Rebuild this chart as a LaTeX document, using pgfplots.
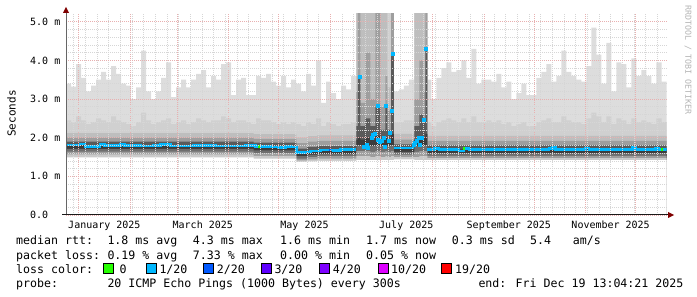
\documentclass[border=0pt]{standalone}
\usepackage{pgfplots}
\pgfplotsset{compat=1.18}
\usepackage{pgfplotstable}
\usepackage{fontspec}
\setmainfont{DejaVu Sans Mono}
\definecolor{ctop}{HTML}{DDDDDD}
\definecolor{cu1}{HTML}{D0D0D0}
\definecolor{cu2}{HTML}{BEBEBE}
\definecolor{cu3}{HTML}{9E9E9E}
\definecolor{cu4}{HTML}{5A5A5A}
\definecolor{cmed}{HTML}{3C3C3C}
\definecolor{cl1}{HTML}{6E6E6E}
\definecolor{cl2}{HTML}{9E9E9E}
\definecolor{cl3}{HTML}{CACACA}
\definecolor{mgrid}{HTML}{E8B0B0}
\definecolor{ngrid}{HTML}{D6D6D6}
\definecolor{lc0}{HTML}{26FF00}
\definecolor{lc1}{HTML}{00B8FF}
\definecolor{lc2}{HTML}{0059FF}
\definecolor{lc3}{HTML}{5E00FF}
\definecolor{lc4}{HTML}{7E00FF}
\definecolor{lc10}{HTML}{DD00FF}
\definecolor{lc19}{HTML}{FF0000}
\definecolor{arrowc}{HTML}{7F0000}
\definecolor{wm}{HTML}{B4B4B4}
\newcommand{\tf}{\fontsize{10bp}{12bp}\selectfont}
\newcommand{\lf}{\fontsize{11.6bp}{14bp}\selectfont}

% days since 1 Jan 2025; top = slowest ping, u1 = upper smoke boundary
\pgfplotstableread{
d top u1
-7.5 3.40 2.45
-4.5 3.32 2.40
-1.5 3.90 2.55
1.5 3.55 2.45
4.5 3.20 2.35
7.5 3.35 2.40
10.5 3.50 2.50
13.5 3.70 2.45
16.5 3.50 2.40
19.5 3.85 2.55
22.5 3.65 2.45
25.5 3.40 2.40
28.5 3.35 2.35
31.5 3.00 2.30
34.5 3.30 2.40
37.5 4.25 2.65
40.5 3.20 2.45
43.5 3.00 2.35
46.5 3.20 2.40
49.5 3.55 2.45
52.5 3.95 2.50
55.5 3.05 2.35
58.5 3.30 2.40
61.5 3.50 2.45
64.5 3.30 2.35
67.5 3.50 2.40
70.5 3.65 2.50
73.5 3.75 2.45
76.5 3.30 2.40
79.5 3.60 2.45
82.5 3.50 2.45
85.5 3.90 2.55
88.5 3.95 2.50
91.5 3.10 2.40
94.5 3.50 2.45
97.5 3.55 2.45
100.5 3.10 2.40
103.5 3.10 2.35
106.5 3.60 2.50
109.5 3.55 2.45
112.5 3.65 2.45
115.5 3.45 2.40
118.5 3.35 2.35
121.5 3.60 2.40
124.5 3.30 2.35
127.5 3.50 2.40
130.5 3.40 2.35
133.5 3.20 2.30
136.5 3.65 2.40
139.5 3.35 2.35
142.5 4.00 2.50
145.5 2.90 2.30
148.5 3.45 2.40
151.5 3.15 2.35
154.5 3.00 2.30
157.5 3.35 2.35
160.5 3.25 2.35
163.5 3.60 2.40
166.6 5.30 5.30
189.0 3.20 2.40
192.0 3.25 2.40
195.0 3.35 2.45
198.0 3.50 2.45
201.4 5.30 5.30
209.2 3.50 2.40
211.5 3.00 2.30
214.5 3.55 2.40
217.5 3.80 2.45
220.5 3.95 2.50
223.5 3.70 2.45
226.5 3.75 2.40
229.5 4.00 2.50
232.5 3.55 2.40
235.5 4.30 2.55
238.5 3.40 2.40
241.5 3.50 2.40
244.5 3.50 2.45
247.5 3.45 2.40
250.5 3.65 2.45
253.5 3.30 2.35
256.5 3.45 2.40
259.5 3.00 2.30
262.5 3.15 2.35
265.5 3.40 2.40
268.5 3.10 2.30
271.5 3.10 2.30
274.5 3.55 2.40
277.5 3.70 2.45
280.5 3.90 2.50
283.5 3.45 2.40
286.5 3.60 2.40
289.5 4.25 2.55
292.5 3.70 2.45
295.5 3.60 2.40
298.5 3.50 2.40
301.5 3.45 2.35
304.5 3.85 2.50
307.5 4.85 2.65
310.5 4.15 2.55
313.5 3.40 2.40
316.5 4.45 2.55
319.5 3.20 2.35
322.5 3.95 2.50
325.5 3.90 2.45
328.5 3.30 2.35
331.5 4.05 2.50
334.5 3.60 2.40
337.5 3.75 2.45
340.5 3.60 2.40
343.5 3.40 2.35
346.5 3.95 2.50
349.5 3.45 2.40
352.5 3.45 2.40
}\smokeA

% inner smoke boundaries around the median
\pgfplotstableread{
d u2 u3 u4 med l1 l2 l3 bot
-7.5 2.12 2.00 1.90 1.81 1.71 1.64 1.57 1.49
105.0 2.09 1.97 1.87 1.77 1.67 1.60 1.53 1.46
130.6 2.00 1.86 1.72 1.62 1.52 1.46 1.41 1.37
137.0 2.04 1.90 1.76 1.66 1.56 1.50 1.44 1.39
143.0 2.06 1.92 1.78 1.68 1.58 1.52 1.46 1.40
166.6 5.30 3.20 2.30 1.95 1.80 1.65 1.52 1.42
167.5 5.30 5.30 3.60 2.00 1.80 1.65 1.52 1.42
169.0 5.30 2.90 2.30 1.95 1.80 1.65 1.52 1.42
172.0 5.30 4.20 2.50 2.00 1.80 1.65 1.52 1.42
175.0 5.30 3.00 2.30 1.95 1.78 1.63 1.50 1.42
178.0 5.30 5.30 2.80 2.05 1.80 1.65 1.52 1.42
181.0 5.30 2.80 2.20 1.95 1.78 1.63 1.50 1.42
184.0 5.30 3.60 2.80 2.00 1.80 1.65 1.52 1.42
185.2 3.30 2.70 2.20 1.95 1.78 1.63 1.50 1.42
187.4 5.30 5.30 4.20 2.10 1.80 1.65 1.52 1.42
189.0 2.10 1.95 1.83 1.73 1.63 1.56 1.50 1.44
201.4 5.30 3.00 2.30 1.95 1.78 1.63 1.50 1.42
204.4 5.30 4.00 2.60 2.00 1.80 1.65 1.52 1.42
206.8 5.30 3.20 2.50 2.00 1.80 1.65 1.52 1.42
208.0 5.30 5.30 4.30 2.10 1.80 1.65 1.52 1.42
209.2 2.05 1.92 1.80 1.70 1.60 1.53 1.47 1.42
352.5 2.05 1.92 1.80 1.70 1.60 1.53 1.47 1.42
}\smokeB

\begin{document}
\begin{tikzpicture}
\useasboundingbox (0,0) rectangle (697bp,297bp);
\begin{axis}[
  at={(66bp,82bp)}, anchor=south west,
  width=600.5bp, height=201bp, scale only axis,
  xmin=-7.5, xmax=352.5, ymin=0, ymax=5.2,
  axis on top,
  axis line style={draw=none},
  major tick length=0pt, minor tick length=0pt,
  xtick={0,31,59,90,120,151,181,212,243,273,304,334},
  xticklabels={,,,,,,,,,,,},
  minor xtick={-3,4,...,347},
  ytick={0,1,2,3,4,5},
  yticklabels={0.0,1.0 m,2.0 m,3.0 m,4.0 m,5.0 m},
  minor y tick num=4,
  grid=both,
  major grid style={draw=mgrid, line width=0.7bp, dash pattern=on 1bp off 1bp},
  minor grid style={draw=ngrid, line width=0.7bp, dash pattern=on 1bp off 1bp},
  tick label style={font=\tf},
  yticklabel style={anchor=west, inner sep=0pt, xshift=-36bp},
  extra x ticks={15.5,74.5,135.5,196.5,258,319},
  extra x tick labels={January 2025,March 2025,May 2025,July 2025,September 2025,November 2025},
  extra x tick style={grid=none, xticklabel style={anchor=north, inner sep=0pt, yshift=-6bp}},
]
\addplot[const plot, fill=ctop, draw=none] table[x=d,y=top]{\smokeA} \closedcycle;
\addplot[const plot, fill=cu1, draw=none] table[x=d,y=u1]{\smokeA} \closedcycle;
\addplot[const plot, fill=cu2, draw=none] table[x=d,y=u2]{\smokeB} \closedcycle;
\addplot[const plot, fill=cu3, draw=none] table[x=d,y=u3]{\smokeB} \closedcycle;
\addplot[const plot, fill=cu4, draw=none] table[x=d,y=u4]{\smokeB} \closedcycle;
\addplot[const plot, fill=cmed, draw=none] table[x=d,y=med]{\smokeB} \closedcycle;
\addplot[const plot, fill=cl1, draw=none] table[x=d,y=l1]{\smokeB} \closedcycle;
\addplot[const plot, fill=cl2, draw=none] table[x=d,y=l2]{\smokeB} \closedcycle;
\addplot[const plot, fill=cl3, draw=none] table[x=d,y=l3]{\smokeB} \closedcycle;
\addplot[const plot, fill=white, draw=none] table[x=d,y=bot]{\smokeB} \closedcycle;
% median rtt
\addplot[const plot, draw=lc1, line width=2.6bp] coordinates {
(-7.5,1.81)(1,1.84)(4,1.77)(13,1.83)(15.5,1.80)(25,1.83)(27.4,1.80)(37,1.78)(45,1.80)(49,1.82)(55,1.78)(69,1.80)(82,1.79)(100,1.80)(106,1.77)(115,1.76)(120,1.75)(124,1.77)(128,1.76)(130.6,1.61)(136,1.63)(139,1.66)(145,1.68)(153,1.67)(157,1.69)(166.6,1.69)};
\addplot[const plot, draw=lc1, line width=2.6bp] coordinates {(189,1.73)(201.4,1.73)};
\addplot[const plot, draw=lc1, line width=2.6bp] coordinates {
(209.2,1.70)(213,1.72)(216,1.70)(228,1.66)(231,1.72)(234,1.69)(282,1.72)(284,1.76)(286,1.70)(304,1.73)(306,1.70)(332,1.74)(334,1.70)(346,1.72)(348,1.70)(352.5,1.70)};
\addplot[const plot, draw=lc0, line width=2.6bp] coordinates {(107.4,1.77)(108.8,1.77)};
\addplot[const plot, draw=lc0, line width=2.6bp] coordinates {(230.6,1.72)(231.8,1.72)};
\addplot[const plot, draw=lc0, line width=2.6bp] coordinates {(349,1.70)(350.2,1.70)};
\addplot[const plot, draw=lc2, line width=2.6bp] coordinates {(150.4,1.68)(151.6,1.68)};
\addplot[only marks, color=lc1, mark=square*, mark size=1.5bp, mark options={fill=lc1, draw=lc1, line width=0pt}] coordinates {
(168.6,3.58)(171,1.77)(173,1.80)(173.5,1.73)(176,1.99)(176.8,2.07)(178,2.10)(179.4,2.82)(179.8,1.95)(181,1.90)(182,1.92)(183,1.99)(184,1.77)(184.6,2.82)(186,1.92)(187,2.12)(188,2.68)(188.6,4.16)(201,1.80)(202,1.86)(203,1.92)(204,1.99)(205,1.82)(206,1.99)(207,2.46)(208.6,4.29)};
\end{axis}
% axes and arrows
\draw[line width=1bp, color=black!60] (66bp,82bp) -- (66bp,286bp);
\fill[arrowc] (63bp,284bp) -- (69bp,284bp) -- (66bp,290bp) -- cycle;
\draw[line width=1bp, color=black!90] (62bp,82bp) -- (669bp,82bp);
\fill[arrowc] (668bp,79bp) -- (668bp,85bp) -- (674bp,82bp) -- cycle;
% axis title and watermark
\node[rotate=90, inner sep=0pt, font=\fontsize{11bp}{13bp}\selectfont] at (11.5bp,183.5bp) {Seconds};
\node[rotate=-90, inner sep=0pt, text=wm, font=\fontsize{8.3bp}{10bp}\selectfont] at (688bp,237bp) {RRDTOOL / TOBI OETIKER};
% legend
\begin{scope}[every node/.style={anchor=base west, inner sep=0pt, font=\lf}]
\node at (16bp,52bp) {median rtt:};
\node at (107.3bp,52bp) {1.8 ms avg};
\node at (192.7bp,52bp) {4.3 ms max};
\node at (280bp,52bp) {1.6 ms min};
\node at (366bp,52bp) {1.7 ms now};
\node at (451.7bp,52bp) {0.3 ms sd};
\node at (530bp,52bp) {5.4};
\node at (572.7bp,52bp) {am/s};
\node at (16bp,37.8bp) {packet loss:};
\node at (107.3bp,37.8bp) {0.19 \% avg};
\node at (192.7bp,37.8bp) {7.33 \% max};
\node at (280bp,37.8bp) {0.00 \% min};
\node at (366bp,37.8bp) {0.05 \% now};
\node at (16bp,23.6bp) {loss color:};
\node at (119.3bp,23.6bp) {0};
\node at (159.3bp,23.6bp) {1/20};
\node at (216.7bp,23.6bp) {2/20};
\node at (274.3bp,23.6bp) {3/20};
\node at (332.7bp,23.6bp) {4/20};
\node at (391bp,23.6bp) {10/20};
\node at (455bp,23.6bp) {19/20};
\node at (16bp,9.4bp) {probe:};
\node at (107.3bp,9.4bp) {20 ICMP Echo Pings (1000 Bytes) every 300s};
\node at (478.3bp,9.4bp) {end: Fri Dec 19 13:04:21 2025};
\end{scope}
\filldraw[fill=lc0, draw=black, line width=0.8bp] (103.5bp,23.5bp) rectangle (113.5bp,33.5bp);
\filldraw[fill=lc1, draw=black, line width=0.8bp] (146bp,23.5bp) rectangle (156bp,33.5bp);
\filldraw[fill=lc2, draw=black, line width=0.8bp] (203.3bp,23.5bp) rectangle (213.3bp,33.5bp);
\filldraw[fill=lc3, draw=black, line width=0.8bp] (261bp,23.5bp) rectangle (271bp,33.5bp);
\filldraw[fill=lc4, draw=black, line width=0.8bp] (319.3bp,23.5bp) rectangle (329.3bp,33.5bp);
\filldraw[fill=lc10, draw=black, line width=0.8bp] (378.3bp,23.5bp) rectangle (388.3bp,33.5bp);
\filldraw[fill=lc19, draw=black, line width=0.8bp] (441.7bp,23.5bp) rectangle (451.7bp,33.5bp);
\end{tikzpicture}
\end{document}
